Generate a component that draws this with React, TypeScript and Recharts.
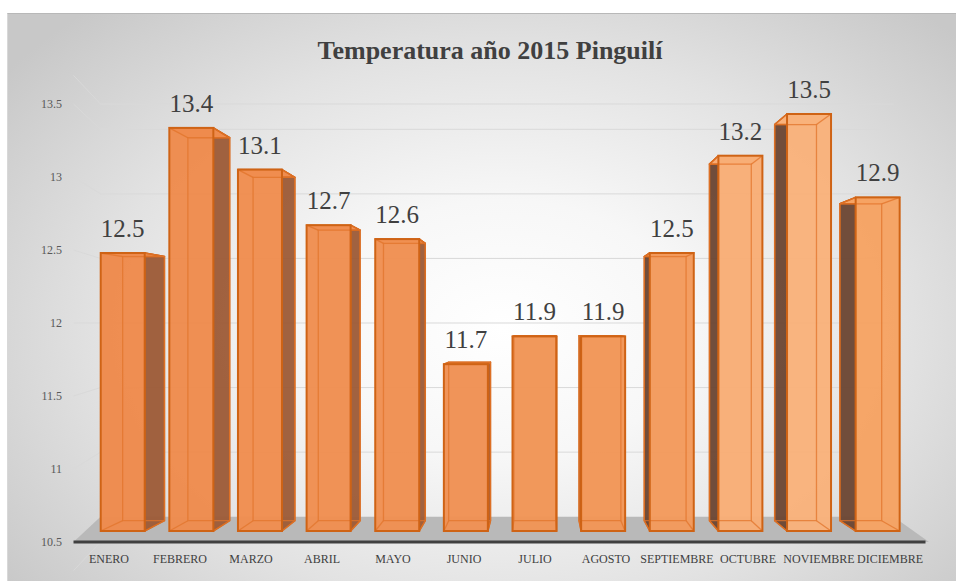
import React from 'react';
import { BarChart, Bar, XAxis, YAxis, CartesianGrid, LabelList } from 'recharts';

// ---------- data ----------
const MESES = ['ENERO', 'FEBRERO', 'MARZO', 'ABRIL', 'MAYO', 'JUNIO', 'JULIO', 'AGOSTO', 'SEPTIEMBRE', 'OCTUBRE', 'NOVIEMBRE', 'DICIEMBRE'];
const TEMPS = [12.5, 13.4, 13.1, 12.7, 12.6, 11.7, 11.9, 11.9, 12.5, 13.2, 13.5, 12.9];
const Y_TICKS = [10.5, 11, 11.5, 12, 12.5, 13, 13.5];
const BASE = 10.5;
const TITLE = 'Temperatura año 2015 Pinguilí';

const data = MESES.map((mes, i) => ({ mes, temp: TEMPS[i], rango: [BASE, TEMPS[i]] }));

// ---------- layout / style ----------
const W = 956;
const H = 581;
const PLOT_TOP = 104;
const PLOT_BOTTOM = 542;
const PLOT_LEFT = 73.5;
const PLOT_RIGHT = 925.5;
const PLOT_H = PLOT_BOTTOM - PLOT_TOP;
const YAXIS_W = 60;
const XAXIS_H = 30;

// front-wall labels, bar fronts (nearer), back wall (farther)
const LAB_DOMAIN: [number, number] = [10.5, 13.5];
const BAR_DOMAIN: [number, number] = [10.4209, 13.5719];
const GRID_DOMAIN: [number, number] = [10.304, 13.696];

const FONT = "'Liberation Serif', 'DejaVu Serif', serif";

const VP = { x: 540, y: 325 }; // perspective vanishing point
const DEPTH = 0.05;
const WALL_L = 27;
const WALL_R = 32;

const FRONT = ['#EE8A4C', '#EE8B4D', '#EF8D50', '#EF8E51', '#F08F52', '#F09154', '#F19556', '#F29657', '#F39A5C', '#F8AD76', '#F9B27B', '#F6A363'];
const SIDE_L = '#9C5A36';
const SIDE_R = '#6A4531';
const EDGE = '#CF6315';

const pts = (arr: number[][]) => arr.map((p) => p.join(',')).join(' ');

function Bar3D(props: any) {
  const { x, y, width, height, index } = props;
  if (x == null || y == null || !width || height == null) return null;
  const x0 = x;
  const x1 = x + width;
  const y0 = y;
  const y1 = y + height;
  const bk = (px: number, py: number) => [px + DEPTH * (VP.x - px), py + DEPTH * (VP.y - py)];
  const FL = [x0, y0];
  const FR = [x1, y0];
  const BL = [x0, y1];
  const BR = [x1, y1];
  const fl = bk(x0, y0);
  const fr = bk(x1, y0);
  const bl = bk(x0, y1);
  const br = bk(x1, y1);
  const rightSide = (x0 + x1) / 2 < VP.x;
  const side = rightSide ? [FR, fr, br, BR] : [FL, fl, bl, BL];
  const sideFill = rightSide ? SIDE_L : SIDE_R;
  const fill = FRONT[index % FRONT.length];
  return (
    <g>
      <polygon points={pts(side)} fill={sideFill} fillOpacity={0.95} stroke={EDGE} strokeWidth={1.5} strokeLinejoin="round" />
      <polygon points={pts([FL, FR, fr, fl])} fill={fill} stroke={EDGE} strokeWidth={1.5} strokeLinejoin="round" />
      <rect x={x0} y={y0} width={width} height={height} fill={fill} fillOpacity={0.97} />
      <g stroke="#E2742B" strokeOpacity={0.75} strokeWidth={1.3} fill="none">
        <polygon points={pts([fl, fr, br, bl])} />
        <line x1={FL[0]} y1={FL[1]} x2={fl[0]} y2={fl[1]} />
        <line x1={FR[0]} y1={FR[1]} x2={fr[0]} y2={fr[1]} />
        <line x1={BL[0]} y1={BL[1]} x2={bl[0]} y2={bl[1]} />
        <line x1={BR[0]} y1={BR[1]} x2={br[0]} y2={br[1]} />
      </g>
      <rect x={x0} y={y0} width={width} height={height} fill="none" stroke={EDGE} strokeWidth={2} />
    </g>
  );
}

function GridLine(p: any) {
  const { x1, x2, y1 } = p;
  const v = GRID_DOMAIN[1] - ((y1 - PLOT_TOP) / PLOT_H) * (GRID_DOMAIN[1] - GRID_DOMAIN[0]);
  const ly = PLOT_TOP + ((LAB_DOMAIN[1] - v) / (LAB_DOMAIN[1] - LAB_DOMAIN[0])) * PLOT_H;
  const bx1 = x1 + WALL_L;
  const bx2 = x2 - WALL_R;
  if (Math.abs(v - LAB_DOMAIN[0]) < 0.01) {
    return (
      <polygon
        key={p.key}
        points={pts([[x1, ly], [bx1, y1], [bx2, y1], [x2 + 3.5, ly]])}
        fill="#B9B9B9"
      />
    );
  }
  return (
    <polyline key={p.key} points={pts([[x1, ly], [bx1, y1], [bx2, y1]])} fill="none" stroke="#D9D9D9" strokeWidth={1} />
  );
}

export default function App() {
  return (
    <div style={{ position: 'fixed', left: 0, top: 0, width: W, height: H, overflow: 'hidden', background: '#ffffff', fontFamily: FONT }}>
      <style>{`svg text, svg tspan { font-family: 'Liberation Serif', 'DejaVu Serif', serif !important; }`}</style>
      <div
        style={{
          position: 'absolute',
          left: 7,
          top: 13,
          width: W,
          height: H,
          boxSizing: 'border-box',
          borderTop: '1px solid #b8b8b8',
          borderLeft: '1px solid #d8d8d8',
          background:
            'radial-gradient(ellipse 620px 430px at 495px 315px, #ffffff 0%, #f7f7f7 30%, #e2e2e2 65%, #c8c8c8 100%)',
        }}
      />
      <div style={{ position: 'absolute', left: 0, top: 0 }}>
        <BarChart
          width={W}
          height={H}
          data={data}
          margin={{ top: PLOT_TOP, right: W - PLOT_RIGHT, bottom: H - PLOT_BOTTOM - XAXIS_H, left: PLOT_LEFT - YAXIS_W }}
        >
          <XAxis xAxisId="bar" dataKey="mes" hide height={0} padding={{ left: 15.2, right: 13.2 }} />
          <XAxis
            xAxisId="lab"
            dataKey="mes"
            interval={0}
            height={XAXIS_H}
            tickLine={false}
            axisLine={{ stroke: '#404040', strokeWidth: 3 }}
            tickMargin={6.5}
            tick={{ fontSize: 12, fill: '#404040' }}
          />
          <YAxis yAxisId="bar" type="number" domain={BAR_DOMAIN} allowDataOverflow hide width={0} />
          <YAxis yAxisId="grid" type="number" domain={GRID_DOMAIN} allowDataOverflow ticks={Y_TICKS} hide width={0} />
          <YAxis
            yAxisId="lab"
            type="number"
            domain={LAB_DOMAIN}
            allowDataOverflow
            ticks={Y_TICKS}
            width={YAXIS_W}
            axisLine={false}
            tickLine={false}
            tickMargin={5.5}
            tick={{ fontSize: 12, fill: '#595959' }}
          />
          <CartesianGrid xAxisId="lab" yAxisId="grid" vertical={false} horizontal={GridLine} />
          <Bar
            xAxisId="bar"
            yAxisId="bar"
            dataKey="rango"
            barSize={44}
            shape={(p: any) => <Bar3D {...p} />}
            isAnimationActive={false}
          >
            <LabelList dataKey="temp" position="top" offset={16} fontSize={25} fill="#404040" />
          </Bar>
        </BarChart>
      </div>
      <svg width={W} height={80} style={{ position: 'absolute', left: 0, top: 0, pointerEvents: 'none' }}>
        <text x={490} y={59} textAnchor="middle" fontWeight="bold" fontSize={26} fill="#404040">
          {TITLE}
        </text>
      </svg>
    </div>
  );
}
